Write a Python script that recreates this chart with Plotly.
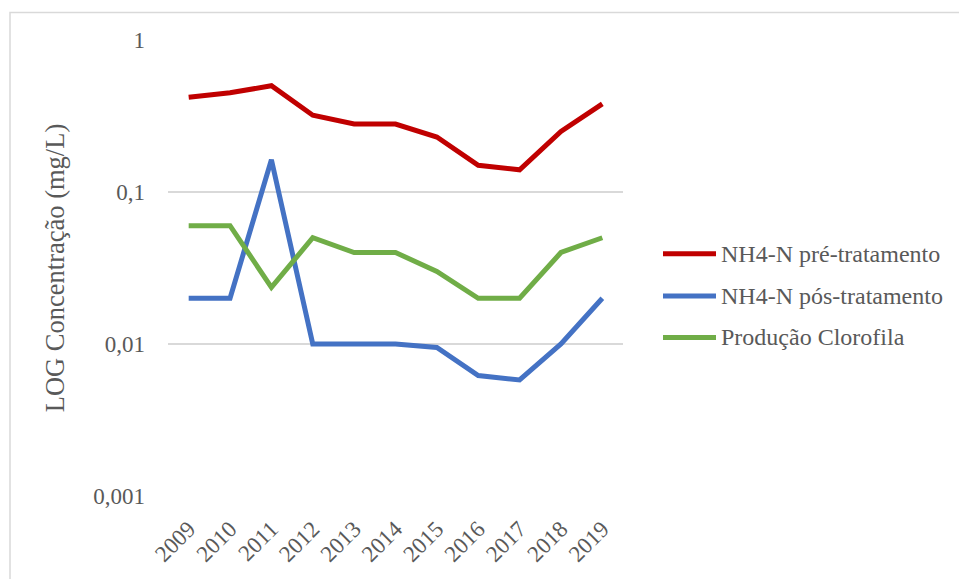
import plotly.graph_objects as go

# Data
years = ["2009", "2010", "2011", "2012", "2013", "2014", "2015", "2016", "2017", "2018", "2019"]
nh4_pre = [0.42, 0.45, 0.50, 0.32, 0.28, 0.28, 0.23, 0.15, 0.14, 0.25, 0.38]
nh4_pos = [0.020, 0.020, 0.163, 0.010, 0.010, 0.010, 0.0095, 0.0062, 0.0058, 0.010, 0.020]
clorofila = [0.060, 0.060, 0.0236, 0.050, 0.040, 0.040, 0.030, 0.020, 0.020, 0.040, 0.050]

series_names = ["NH4-N pré-tratamento", "NH4-N pós-tratamento", "Produção Clorofila"]
series_values = [nh4_pre, nh4_pos, clorofila]
series_colors = ["#C00000", "#4472C4", "#70AD47"]

y_tickvals = [1, 0.1, 0.01, 0.001]
y_ticktext = ["1", "0,1", "0,01", "0,001"]

# Layout geometry (pixels)
W, H = 959, 579
ML, MR, MT, MB = 168, 336, 40, 76
PW, PH = W - ML - MR, H - MT - MB
FONT = "'Times New Roman', 'Liberation Serif', 'DejaVu Serif', serif"
TXT = "#595959"
GRID = "#D9D9D9"


def px_x(px):
    return (px - ML) / PW


def px_y(py):
    return (H - MB - py) / PH


fig = go.Figure()
for name, vals, col in zip(series_names, series_values, series_colors):
    fig.add_trace(go.Scatter(
        x=years, y=vals, name=name, mode="lines",
        line=dict(color=col, width=5),
        showlegend=False,
    ))

shapes = [
    # chart area border
    dict(type="rect", xref="paper", yref="paper",
         x0=px_x(10), x1=px_x(W + 20), y0=px_y(H + 20), y1=px_y(12),
         line=dict(color=GRID, width=1.5), fillcolor="rgba(0,0,0,0)", layer="below"),
]
annotations = []

# legend entries
leg_rows = [257, 300, 342]
for name, col, yy in zip(series_names, series_colors, leg_rows):
    shapes.append(dict(type="line", xref="paper", yref="paper",
                       x0=px_x(663), x1=px_x(716), y0=px_y(yy), y1=px_y(yy),
                       line=dict(color=col, width=5)))
    annotations.append(dict(xref="paper", yref="paper", x=px_x(719), y=px_y(yy),
                            xanchor="left", yanchor="middle", showarrow=False,
                            text=name, font=dict(family=FONT, size=24, color=TXT)))

fig.update_layout(
    width=W, height=H,
    margin=dict(l=ML, r=MR, t=MT, b=MB),
    paper_bgcolor="white", plot_bgcolor="white",
    shapes=shapes, annotations=annotations,
    showlegend=False,
    font=dict(family=FONT, color=TXT),
    xaxis=dict(
        type="category", range=[-0.5, len(years) - 0.5],
        showgrid=False, zeroline=False, showline=False,
        ticks="", tickangle=-45, ticklabelstandoff=14,
        tickfont=dict(family=FONT, size=23, color=TXT),
    ),
    yaxis=dict(
        type="log", range=[-3, 0],
        tickvals=y_tickvals, ticktext=y_ticktext,
        showgrid=True, gridcolor=GRID, gridwidth=1.5,
        zeroline=False, showline=False, ticks="", ticklabelstandoff=22,
        tickfont=dict(family=FONT, size=23, color=TXT),
        title=dict(text="LOG Concentração (mg/L)", standoff=20,
                   font=dict(family=FONT, size=26.5, color=TXT)),
    ),
)

fig.write_html("out.html")
